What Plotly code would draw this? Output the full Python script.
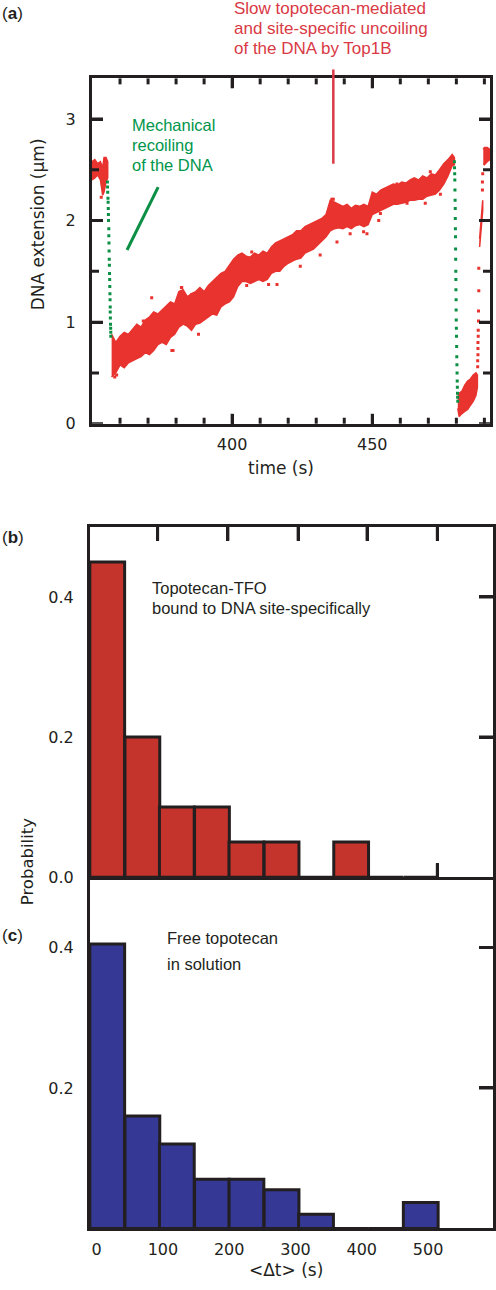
import plotly.graph_objects as go

# ---------------- Panel (a): DNA extension vs time ----------------
# first plateau (red cloud, lower/upper edges)
seg1_t = [350.0, 351.0, 352.0, 353.0, 353.8, 354.3, 355.0, 355.6]
seg1_lo = [2.40, 2.42, 2.45, 2.40, 2.25, 2.28, 2.38, 2.42]
seg1_hi = [2.58, 2.60, 2.56, 2.58, 2.52, 2.62, 2.62, 2.58]

# slow uncoiling ramp (red cloud, lower/upper edges)
main_t = [357.0, 358.5, 360.0, 361.5, 363.0, 364.5, 366.0, 367.5, 369.0, 370.5,
          372.0, 373.5, 375.0, 376.5, 378.0, 379.5, 381.0, 382.5, 384.0, 385.5,
          387.0, 388.5, 390.0, 391.5, 393.0, 394.5, 396.0, 397.5, 399.0, 400.5,
          402.0, 403.5, 405.0, 406.5, 408.0, 409.5, 411.0, 412.5, 414.0, 415.5,
          417.0, 418.5, 420.0, 421.5, 423.0, 424.5, 426.0, 427.5, 429.0, 430.5,
          432.0, 433.5, 435.0, 436.5, 438.0, 439.5, 441.0, 442.5, 444.0, 445.5,
          447.0, 448.5, 450.0, 451.5, 453.0, 454.5, 456.0, 457.5, 459.0, 460.5,
          462.0, 463.5, 465.0, 466.5, 468.0, 469.5, 471.0, 472.5, 474.0, 475.5,
          477.0, 478.5, 479.3]
main_lo = [0.46, 0.50, 0.58, 0.55, 0.60, 0.62, 0.64, 0.66, 0.70, 0.68,
           0.72, 0.78, 0.80, 0.78, 0.85, 0.88, 0.95, 0.98, 0.96, 0.92,
           0.98, 0.99, 1.02, 1.05, 1.08, 1.07, 1.15, 1.18, 1.20, 1.25,
           1.35, 1.40, 1.40, 1.38, 1.40, 1.42, 1.40, 1.42, 1.48, 1.50,
           1.50, 1.55, 1.58, 1.60, 1.62, 1.63, 1.68, 1.70, 1.72, 1.75,
           1.80, 1.84, 1.90, 1.92, 1.93, 1.92, 1.94, 1.92, 1.95, 1.96,
           1.94, 1.96, 2.06, 2.08, 2.10, 2.12, 2.14, 2.16, 2.16, 2.17,
           2.18, 2.20, 2.20, 2.21, 2.21, 2.24, 2.25, 2.26, 2.30, 2.36,
           2.44, 2.54, 2.55]
main_hi = [0.88, 0.80, 0.86, 0.90, 0.88, 0.93, 0.98, 0.95, 1.02, 1.05,
           1.10, 1.08, 1.12, 1.15, 1.20, 1.18, 1.30, 1.32, 1.25, 1.28,
           1.30, 1.34, 1.30, 1.36, 1.40, 1.43, 1.48, 1.50, 1.56, 1.62,
           1.66, 1.68, 1.65, 1.64, 1.68, 1.66, 1.70, 1.68, 1.74, 1.78,
           1.80, 1.82, 1.84, 1.86, 1.90, 1.90, 1.94, 1.96, 1.98, 2.00,
           2.02, 2.06, 2.20, 2.18, 2.16, 2.14, 2.16, 2.12, 2.15, 2.14,
           2.16, 2.14, 2.28, 2.26, 2.30, 2.32, 2.34, 2.36, 2.35, 2.38,
           2.37, 2.40, 2.42, 2.40, 2.44, 2.42, 2.46, 2.45, 2.50, 2.56,
           2.60, 2.65, 2.62]

# low plateau after second recoiling
end_t = [480.5, 481.0, 482.0, 483.0, 484.0, 485.0, 486.0, 487.0, 487.5]
end_lo = [0.15, 0.07, 0.10, 0.12, 0.14, 0.18, 0.22, 0.28, 0.36]
end_hi = [0.28, 0.30, 0.32, 0.38, 0.42, 0.44, 0.48, 0.50, 0.48]

# rising streak and final plateau
streak_t = [488.3, 488.7, 489.1, 489.4]
streak_lo = [1.74, 1.88, 2.02, 2.10]
streak_hi = [1.82, 1.98, 2.12, 2.20]
top_t = [489.6, 490.0, 491.0, 492.0]
top_lo = [2.56, 2.55, 2.58, 2.60]
top_hi = [2.70, 2.72, 2.72, 2.70]

# sparse red points
sparse_t = [487.6, 487.6, 487.7, 487.7, 487.7, 487.8, 487.8, 487.9, 487.9, 488.0,
            488.0, 489.3, 489.3, 489.4]
sparse_y = [0.56, 0.62, 0.68, 0.74, 0.80, 0.86, 0.92, 1.01, 1.11, 1.31,
            1.53, 2.30, 2.38, 2.46]

# isolated red points around the cloud
outlier_t = [382.0, 378.5, 388.0, 358.8, 405.2, 416.0, 424.3, 435.6, 448.1, 452.3,
             395.1, 371.3, 368.3, 407.0, 413.0, 431.4, 437.4, 436.1, 442.1, 458.8,
             462.4, 470.7, 468.9, 474.3, 446.9, 452.9, 353.3, 358.1, 378.9, 381.9,
             385.5, 364.0]
outlier_y = [1.34, 0.72, 0.88, 0.48, 1.36, 1.37, 1.55, 2.21, 1.87, 2.00,
             1.44, 1.24, 1.01, 1.69, 1.37, 1.66, 1.79, 2.21, 1.87, 2.36,
             2.17, 2.48, 2.17, 2.26, 1.89, 2.07, 2.23, 0.46, 0.72, 1.34,
             1.27, 0.88]

# mechanical recoiling (green points)
drop1_t = [355.5, 355.55, 355.6, 355.7, 355.75, 355.8, 355.85, 355.9, 356.0, 356.0,
           356.05, 356.1, 356.15, 356.2, 356.25, 356.3, 356.35, 356.4, 356.45, 356.5,
           356.5, 356.55, 356.6, 356.65, 356.7, 356.7]
drop1_y = [2.38, 2.33, 2.28, 2.22, 2.18, 2.12, 2.06, 2.00, 1.92, 1.85,
           1.78, 1.70, 1.62, 1.56, 1.48, 1.42, 1.35, 1.28, 1.22, 1.15,
           1.10, 1.04, 0.98, 0.94, 0.90, 0.86]
drop2_t = [479.3, 479.35, 479.4, 479.45, 479.5, 479.55, 479.6, 479.62, 479.65, 479.7,
           479.72, 479.75, 479.8, 479.82, 479.85, 479.9, 479.92, 479.95, 480.0, 480.05,
           480.1, 480.15, 480.2, 480.25, 480.3, 480.35, 480.4, 480.45, 480.5]
drop2_y = [2.58, 2.52, 2.46, 2.40, 2.30, 2.20, 2.12, 2.02, 1.92, 1.84,
           1.72, 1.62, 1.50, 1.42, 1.32, 1.22, 1.12, 1.02, 0.94, 0.86,
           0.76, 0.66, 0.58, 0.50, 0.42, 0.36, 0.30, 0.26, 0.22]

# annotation marks (data coordinates)
uncoil_mark_t = 436.1
recoil_arrow_t = [362.5, 373.6]
recoil_arrow_y = [1.71, 2.33]

a_xrange = [350, 492]
a_yrange = [0, 3.4]
a_xticks = [400, 450]
a_xminor = [360, 370, 380, 390, 410, 420, 430, 440, 460, 470, 480, 490]
a_yticks = [0, 1, 2, 3]
a_yminor = [0.5, 1.5, 2.5]

# ---------------- Panels (b), (c): histograms ----------------
bin_centers = [16, 69, 121, 174, 226, 279, 331, 384, 436, 489]
prob_tfo = [0.45, 0.20, 0.10, 0.10, 0.05, 0.05, 0.0, 0.05, 0.0, 0.0]
prob_free = [0.405, 0.16, 0.12, 0.07, 0.07, 0.055, 0.02, 0.0, 0.0, 0.037]
hist_xrange = [-10, 598]
hist_yrange = [0, 0.5]
c_xticks = [0, 100, 200, 300, 400, 500]
b_xticks = [92, 198, 304, 408, 514]
b_yticks = [0.0, 0.2, 0.4]
b_yticklabels = ["0.0", "0.2", "0.4"]
c_yticks = [0.2, 0.4]
c_yticklabels = ["0.2", "0.4"]

# ---------------- Styling ----------------
W, H = 496, 1290
INK = "#231f20"
RED = "#e8332f"
GREEN = "#0a8f45"
TXT_RED = "#d93a45"
TXT_GREEN = "#00964b"
BAR_RED = "#c4332c"
BAR_BLUE = "#353895"
AX_FONT = dict(family="DejaVu Sans", size=16, color=INK)
ANN_FONT = "Liberation Sans"

# plot-area pixel boxes (left, right, top, bottom)
BOX_A = (92, 490, 79, 427)
BOX_B = (90, 493, 531, 884)
BOX_C = (90, 493, 884, 1238)


def px_x(p):
    return p / W


def px_y(p):
    return 1 - p / H


def band(t, lo, hi, color):
    return go.Scatter(x=list(t) + list(reversed(t)), y=list(hi) + list(reversed(lo)),
                      fill="toself", fillcolor=color, mode="lines",
                      line=dict(color=color, width=1.5), xaxis="x", yaxis="y",
                      hoverinfo="skip")


fig = go.Figure()
for t, lo, hi in [(seg1_t, seg1_lo, seg1_hi), (main_t, main_lo, main_hi),
                  (end_t, end_lo, end_hi), (streak_t, streak_lo, streak_hi),
                  (top_t, top_lo, top_hi)]:
    fig.add_trace(band(t, lo, hi, RED))

fig.add_trace(go.Scatter(x=sparse_t + outlier_t, y=sparse_y + outlier_y, mode="markers",
                         marker=dict(symbol="square", size=3, color=RED), xaxis="x", yaxis="y"))
fig.add_trace(go.Scatter(x=drop1_t + drop2_t, y=drop1_y + drop2_y, mode="markers",
                         marker=dict(symbol="square", size=3, color=GREEN), xaxis="x", yaxis="y"))

fig.add_trace(go.Bar(x=bin_centers, y=prob_tfo, width=52.5, marker=dict(color=BAR_RED,
                     line=dict(color=INK, width=3)), xaxis="x2", yaxis="y2"))
fig.add_trace(go.Bar(x=bin_centers, y=prob_free, width=52.5, marker=dict(color=BAR_BLUE,
                     line=dict(color=INK, width=3)), xaxis="x3", yaxis="y3"))

axis_common = dict(showline=True, linewidth=3, linecolor=INK, showgrid=False, zeroline=False,
                   ticks="inside", tickwidth=3, tickcolor=INK, tickfont=AX_FONT, fixedrange=True)

fig.update_layout(
    width=W, height=H, margin=dict(l=0, r=0, t=0, b=0),
    paper_bgcolor="white", plot_bgcolor="white", showlegend=False, bargap=0,
    xaxis=dict(axis_common, domain=[px_x(BOX_A[0]), px_x(BOX_A[1])], range=a_xrange, anchor="y",
               tickmode="array", tickvals=a_xticks, ticklen=10, mirror="ticks",
               ticklabelstandoff=4),
    yaxis=dict(axis_common, domain=[px_y(BOX_A[3]), px_y(BOX_A[2])], range=a_yrange, anchor="x",
               tickmode="array", tickvals=a_yticks, ticklen=11, mirror="ticks",
               ticklabelstandoff=10),
    xaxis2=dict(axis_common, domain=[px_x(BOX_B[0]), px_x(BOX_B[1])], range=hist_xrange,
                anchor="y2", tickmode="array", tickvals=b_xticks, ticklen=14, mirror="ticks",
                showticklabels=False, layer="below traces"),
    yaxis2=dict(axis_common, domain=[px_y(BOX_B[3]), px_y(BOX_B[2])], range=hist_yrange,
                anchor="x2", tickmode="array", tickvals=b_yticks, ticktext=b_yticklabels,
                ticklen=14, mirror="ticks", ticklabelstandoff=10, layer="below traces"),
    xaxis3=dict(axis_common, domain=[px_x(BOX_C[0]), px_x(BOX_C[1])], range=hist_xrange,
                anchor="y3", tickmode="array", tickvals=c_xticks, ticks="", mirror=False,
                ticklabelstandoff=4, layer="below traces"),
    yaxis3=dict(axis_common, domain=[px_y(BOX_C[3]), px_y(BOX_C[2])], range=hist_yrange,
                anchor="x3", tickmode="array", tickvals=c_yticks, ticktext=c_yticklabels,
                ticklen=14, mirror="ticks", ticklabelstandoff=10, layer="below traces"),
)


# explicit tick marks placed through the axes' own scales
def x_tick_marks(xref, yref, vals, len_px, box, layer="above", top=True, bottom=True):
    f = len_px / (box[3] - box[2])
    for v in vals:
        spans = ([(0, f)] if bottom else []) + ([(1 - f, 1)] if top else [])
        for y0, y1 in spans:
            fig.add_shape(type="line", xref=xref, yref=yref + " domain", x0=v, x1=v,
                          y0=y0, y1=y1, layer=layer, line=dict(color=INK, width=3))


def y_tick_marks(xref, yref, vals, len_px, box, layer="above"):
    f = len_px / (box[1] - box[0])
    for v in vals:
        for x0, x1 in [(0, f), (1 - f, 1)]:
            fig.add_shape(type="line", xref=xref + " domain", yref=yref, x0=x0, x1=x1,
                          y0=v, y1=v, layer=layer, line=dict(color=INK, width=3))


x_tick_marks("x", "y", a_xticks, 10, BOX_A)
x_tick_marks("x", "y", a_xminor, 6, BOX_A)
y_tick_marks("x", "y", a_yticks, 11, BOX_A)
y_tick_marks("x", "y", a_yminor, 7, BOX_A)
x_tick_marks("x2", "y2", b_xticks, 14, BOX_B, layer="below")
y_tick_marks("x2", "y2", b_yticks[1:], 14, BOX_B, layer="below")
y_tick_marks("x3", "y3", c_yticks, 14, BOX_C, layer="below")

# marker lines in panel (a)
frac = (uncoil_mark_t - a_xrange[0]) / (a_xrange[1] - a_xrange[0])
fig.add_shape(type="line", xref="x domain", yref="paper", x0=frac, x1=frac,
              y0=px_y(70), y1=px_y(165), line=dict(color=TXT_RED, width=2.5))
fig.add_shape(type="line", xref="x", yref="y", x0=recoil_arrow_t[0], x1=recoil_arrow_t[1],
              y0=recoil_arrow_y[0], y1=recoil_arrow_y[1], line=dict(color=GREEN, width=3))


def text(s, x, y, color=INK, size=16.5, family=ANN_FONT, xanchor="left", angle=0):
    fig.add_annotation(text=s, xref="paper", yref="paper", x=px_x(x), y=px_y(y),
                       xanchor=xanchor, yanchor="middle", showarrow=False, textangle=angle,
                       font=dict(family=family, size=size, color=color))


# panel letters
text("(<b>a</b>)", 0, 14, size=17)
text("(<b>b</b>)", 0, 542, size=17)
text("(<b>c</b>)", 0, 943, size=17)

# panel (a) texts
for i, line in enumerate(["Slow topotecan-mediated", "and site-specific uncoiling",
                          "of the DNA by Top1B"]):
    text(line, 232, 8.5 + 20.3 * i, color=TXT_RED, size=17)
for i, line in enumerate(["Mechanical", "recoiling", "of the DNA"]):
    text(line, 130, 125.5 + 20.2 * i, color=TXT_GREEN, size=16.5)

# panel (b), (c) texts
text("Topotecan-TFO", 150, 592.5)
text("bound to DNA site-specifically", 150, 612.5)
text("Free topotecan", 165, 945.5)
text("in solution", 165, 971.5)

# axis titles
text("DNA extension (µm)", 38, 226, size=17, family="DejaVu Sans", xanchor="center", angle=-90)
text("time (s)", 281, 472, size=17, family="DejaVu Sans", xanchor="center")
text("Probability", 27, 869, size=16.5, family="DejaVu Sans", xanchor="center", angle=-90)
text("<Δt> (s)", 286, 1280, size=17, family="DejaVu Sans", xanchor="center")

fig.write_html("out.html", config={"displayModeBar": False, "staticPlot": True},
               post_script="document.body.style.margin='0';"
                           "document.body.style.overflow='hidden';")
